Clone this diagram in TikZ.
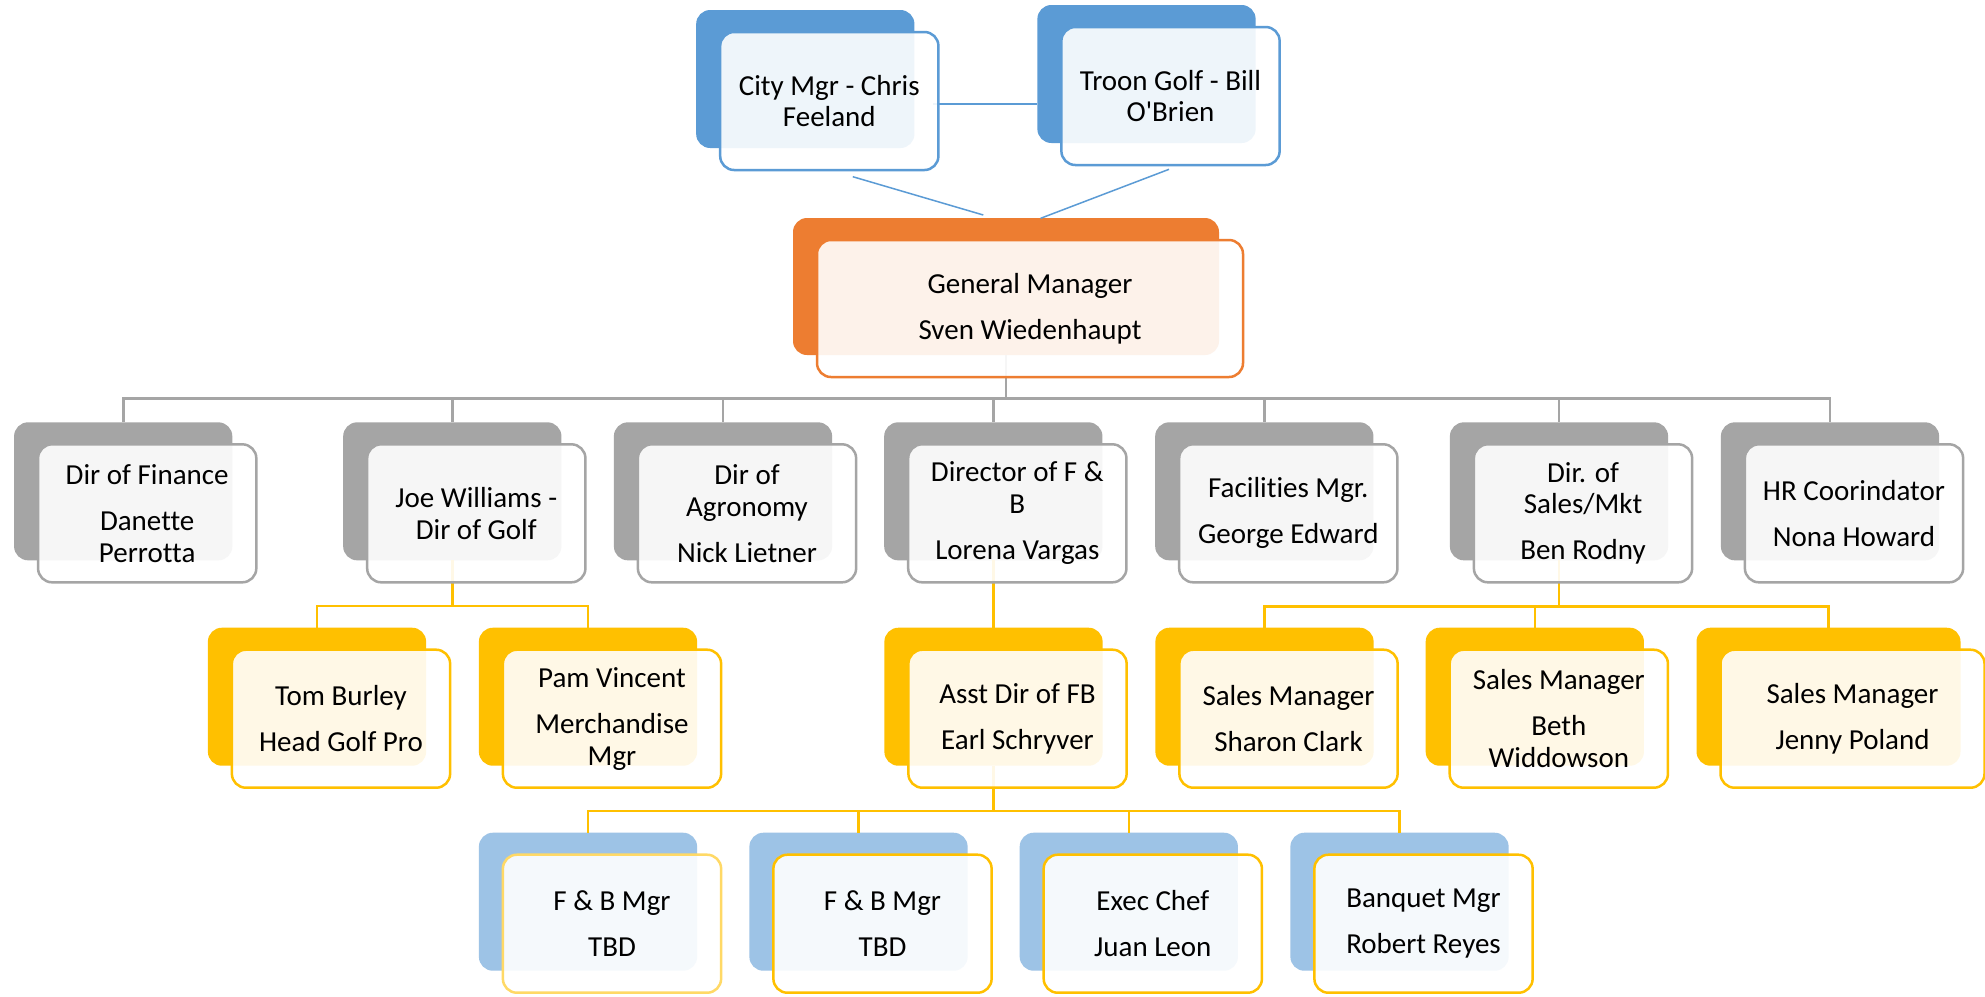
\documentclass[tikz,border=0pt]{standalone}
\usepackage{fontspec}
\setmainfont{Carlito}[Ligatures={TeXOff,NoCommon}]
\usetikzlibrary{calc}

\definecolor{cBlue}{HTML}{5B9BD5}
\definecolor{cOrange}{HTML}{ED7D31}
\definecolor{cGray}{HTML}{A5A5A5}
\definecolor{cGold}{HTML}{FFC000}
\definecolor{cGoldLight}{HTML}{FFD966}
\definecolor{cSky}{HTML}{9DC3E6}

\pgfdeclarelayer{backs}
\pgfdeclarelayer{fronts}
\pgfsetlayers{backs,main,fronts}

\newcommand\orgfont{\fontsize{11.6}{12.7}\selectfont}
\newcommand\pgap{\\[5.7pt]}

\tikzset{
  card/.style={rectangle, rounded corners=5.6pt, inner sep=0pt, outer sep=0pt,
               minimum width=87.3pt, minimum height=55.2pt},
  backcard/.style={card, draw=none},
  frontcard/.style={card, fill=white, fill opacity=0.9, text opacity=1,
                    line width=1pt, align=center, font=\orgfont},
  gline/.style={draw=cGray, line width=1.1pt},
  yline/.style={draw=cGold, line width=1pt},
  bline/.style={draw=cBlue, line width=0.6pt},
}

% \member[width]{name}{centre of back card}{back colour}{outline colour}{text}
\newcommand\member[6][87.3pt]{%
  \begin{pgfonlayer}{backs}
    \node[backcard, fill=#4, minimum width=#1] (#2B) at (#3) {};
  \end{pgfonlayer}
  \begin{pgfonlayer}{fronts}
    \node[frontcard, draw=#5, minimum width=#1] (#2F) at ($(#2B)+(24,22)$) {#6};
  \end{pgfonlayer}%
}

\begin{document}
\begin{tikzpicture}[x=0.4pt, y=-0.4pt]
  \useasboundingbox (0,0) rectangle (1985,996);
  \begin{pgfonlayer}{backs}
    \fill[white] (0,0) rectangle (1985,996);
  \end{pgfonlayer}

  % top level
  \member{city}{805.3,79}{cBlue}{cBlue}{City Mgr - Chris\\Feeland}
  \member{troon}{1146.5,74}{cBlue}{cBlue}{Troon Golf - Bill\\O'Brien}
  \begin{pgfonlayer}{backs}
    \node[backcard, fill=cOrange, minimum width=170.4pt, minimum height=54.8pt] (gmB) at (1006,286.5) {};
  \end{pgfonlayer}
  \begin{pgfonlayer}{fronts}
    \node[frontcard, draw=cOrange, minimum width=170.4pt, minimum height=54.8pt] (gmF) at ($(gmB)+(24,22)$)
      {General Manager\pgap Sven Wiedenhaupt};
  \end{pgfonlayer}

  % directors
  \member{fin}{123.2,491.3}{cGray}{cGray}{Dir of Finance\pgap Danette\\Perrotta}
  \member{joe}{452.3,491.3}{cGray}{cGray}{Joe Williams -\\Dir of Golf}
  \member{agro}{723,491.3}{cGray}{cGray}{Dir of\\Agronomy\pgap Nick Lietner}
  \member{fb}{993.3,491.3}{cGray}{cGray}{Director of F \&\\B\pgap Lorena Vargas}
  \member{fac}{1264.3,491.3}{cGray}{cGray}{Facilities Mgr.\pgap George Edward}
  \member{sales}{1559,491.3}{cGray}{cGray}{Dir. of\\Sales/Mkt\pgap Ben Rodny}
  \member{hr}{1830,491.3}{cGray}{cGray}{HR Coorindator\pgap Nona Howard}

  % managers
  \member{tom}{317,696.7}{cGold}{cGold}{Tom Burley\pgap Head Golf Pro}
  \member{pam}{588,696.7}{cGold}{cGold}{Pam Vincent\pgap Merchandise\\Mgr}
  \member{asst}{993.5,696.7}{cGold}{cGold}{Asst Dir of FB\pgap Earl Schryver}
  \member{sharon}{1264.5,696.7}{cGold}{cGold}{Sales Manager\pgap Sharon Clark}
  \member{beth}{1534.8,696.7}{cGold}{cGold}{Sales Manager\pgap Beth\\Widdowson}
  \member[105.6pt]{jenny}{1828.5,696.7}{cGold}{cGold}{Sales Manager\pgap Jenny Poland}

  % food and beverage staff
  \member{fbone}{588,901.7}{cSky}{cGoldLight}{F \& B Mgr\pgap TBD}
  \member{fbtwo}{858.5,901.7}{cSky}{cGold}{F \& B Mgr\pgap TBD}
  \member{chef}{1128.8,901.7}{cSky}{cGold}{Exec Chef\pgap Juan Leon}
  \member{banq}{1399.5,901.7}{cSky}{cGold}{Banquet Mgr\pgap Robert Reyes}

  % links above the general manager
  \coordinate (cityR) at ($(cityF.east)+(-5,3)$);
  \draw[bline] (cityR) -- (cityR -| troonB.west);
  \draw[bline] ($(cityF.south)+(23.5,6.7)$) -- ($(gmB.north)+(-22.7,-3)$);
  \draw[bline] ($(troonF.south)+(-1.5,4.3)$) -- ($(gmB.north)+(34.6,0.3)$);

  % general manager to directors
  \foreach \c in {fin,joe,agro,fb,fac,sales,hr}
    \draw[gline] (gmB.south) -- ++(0,43.5) -| (\c B.north);

  % directors to managers
  \foreach \c in {tom,pam}
    \draw[yline] (joeB.south) -- ++(0,45.5) -| (\c B.north);
  \draw[yline] (fbB.south) -- (fbB.south |- asstB.north);
  \foreach \c in {sharon,beth,jenny}
    \draw[yline] (salesB.south) -- ++(0,46) -| (\c B.north);

  % assistant director to staff
  \foreach \c in {fbone,fbtwo,chef,banq}
    \draw[yline] (asstB.south) -- ++(0,45.5) -| (\c B.north);
\end{tikzpicture}
\end{document}
